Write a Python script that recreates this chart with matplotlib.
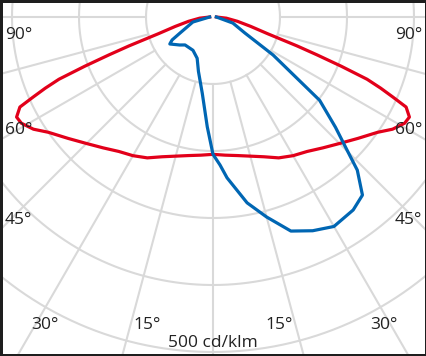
import numpy as np
import matplotlib
matplotlib.use("Agg")
import matplotlib.pyplot as plt
from matplotlib.patches import Rectangle

# C0-C180 (rojo), simétrico: ángulo desde nadir -> intensidad
angulos_rojo = [0, 5, 10, 15, 20, 25, 30, 35, 40, 45, 50, 55, 58, 61, 63, 65, 66, 67, 68, 69, 70, 71, 73, 76, 80, 85, 90]
valores_rojo = [205, 207, 210, 215, 222, 232, 239, 245, 255, 267, 282, 300, 316, 327, 329, 318, 294, 272, 248, 205, 165, 133, 85, 58, 37, 20, 5]

# C90-C270 (azul), asimétrico: ángulo con signo (positivo a la derecha)
angulos_azul = [-90, -76, -64, -60.7, -58, -50, -45, -31, -21, -15, -8, -3, 0, 2.7, 5, 10.4, 15, 20, 25, 30, 36, 40, 43.3, 45.2, 48, 52, 54, 57.7, 63.4, 73, 90]
valores_azul = [5, 31, 55, 70, 76, 65, 59, 58, 66, 84, 115, 164, 205, 221, 241, 282, 309, 340, 352, 361, 356, 347, 314, 282, 246, 202, 153, 106, 53, 31, 5]

circulos = [100, 200, 300, 400, 500, 600]
radiales = np.arange(0, 360, 15)

# etiquetas: (texto, x px, y px desde arriba)
etiquetas = [("90°", 18.5, 35), ("90°", 408.5, 35),
             ("60°", 18.5, 130), ("60°", 408.5, 130),
             ("45°", 18.5, 220), ("45°", 408.5, 220),
             ("30°", 44.5, 325), ("30°", 383.5, 325),
             ("15°", 147.5, 325), ("15°", 279.5, 325),
             ("500 cd/klm", 213, 343)]

W, H = 427, 356
cx, cy = 213, H - 17   # centro del diagrama en píxeles
R = 402                # píxeles para r = 600

fig = plt.figure(figsize=(W / 100, H / 100), dpi=100)
ax = fig.add_axes([(cx - R) / W, (cy - R) / H, 2 * R / W, 2 * R / H], projection="polar")
ax.set_theta_zero_location("S")
ax.set_ylim(0, 600)
ax.grid(False)
ax.set_xticks([])
ax.set_yticks([])
ax.spines["polar"].set_visible(False)

gris = "#d9d9d9"
t = np.linspace(0, 2 * np.pi, 720)
for r in circulos:
    ax.plot(t, np.full_like(t, r), color=gris, lw=1.5, zorder=1)
for a in radiales:
    ax.plot([np.radians(a)] * 2, [100, 600], color=gris, lw=1.5, zorder=1)

# curva roja (espejo)
ang_r = np.radians(np.concatenate([-np.array(angulos_rojo[::-1]), angulos_rojo[1:]]))
val_r = np.concatenate([valores_rojo[::-1], valores_rojo[1:]])
ax.plot(ang_r, val_r, color="#e2001a", lw=2.3, zorder=3, solid_joinstyle="round")

ax.plot(np.radians(angulos_azul), valores_azul, color="#0066b3", lw=2.3, zorder=4, solid_joinstyle="round")

for txt, x, y in etiquetas:
    fig.text(x / W, 1 - y / H, txt, ha="center", va="center", fontsize=12.5,
             family="Open Sans", color="#222222", zorder=5)

fig.add_artist(Rectangle((0, 0), 1, 1, transform=fig.transFigure, fill=False,
                         edgecolor="#1e1e1e", lw=3.6, zorder=10))

fig.savefig("out.png", dpi=100)
